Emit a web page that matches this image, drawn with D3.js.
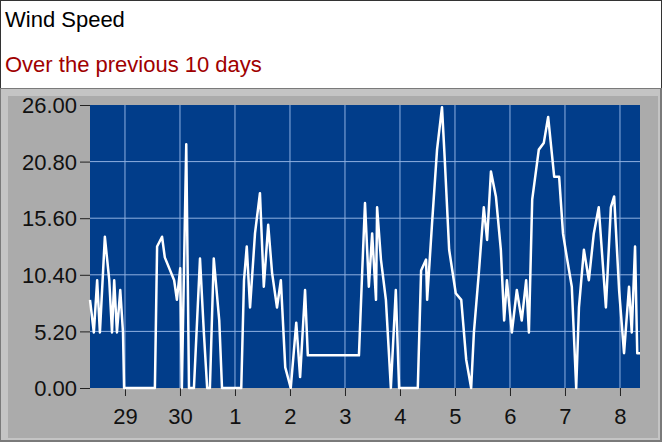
<!DOCTYPE html>
<html>
<head>
<meta charset="utf-8">
<script src="https://cdn.jsdelivr.net/npm/d3@7"></script>
<style>
  body { margin: 0; background: #fff; }
  svg { display: block; font-family: Arial, "Liberation Sans", sans-serif; }
</style>
</head>
<body>
<div id="chart"></div>
<script>
// Time in days since the left edge of the plot, wind speed in the chart's units
var times = [0.00,0.07,0.13,0.18,0.27,0.35,0.40,0.44,0.49,0.55,0.60,0.62,1.18,1.22,1.31,1.36,1.53,1.58,1.64,1.67,
  1.75,1.80,1.89,2.00,2.07,2.13,2.18,2.25,2.35,2.40,2.75,2.80,2.85,2.91,3.00,3.09,3.16,3.24,3.31,3.40,
  3.47,3.55,3.65,3.75,3.82,3.91,3.96,4.89,4.95,5.00,5.07,5.13,5.20,5.22,5.29,5.38,5.47,5.56,5.62,5.96,
  6.02,6.11,6.13,6.22,6.31,6.40,6.45,6.53,6.65,6.75,6.84,6.93,6.98,7.07,7.16,7.22,7.29,7.38,7.47,7.53,
  7.58,7.67,7.76,7.85,7.93,7.98,8.04,8.16,8.25,8.33,8.44,8.53,8.60,8.67,8.76,8.84,8.89,8.98,9.07,9.16,
  9.25,9.38,9.47,9.53,9.62,9.71,9.80,9.85,9.91,9.95,10.0];
var speeds = [8.1,5.1,9.9,5.1,13.9,9.9,5.1,9.9,5.1,9.0,5.1,0,0,13.0,13.9,12.0,9.9,8.1,11.0,0,
  22.4,0,0,11.9,5.1,0,0,11.9,6.2,0,0,9.9,13.0,7.4,14.2,17.9,9.3,15.0,10.6,7.4,
  9.9,1.9,0,6.0,1.0,9.0,3.0,3.0,10.8,17.0,9.3,14.2,8.1,16.6,11.8,8.1,0,9.0,0,0,
  10.8,11.8,8.1,15.2,21.9,25.8,21.0,12.7,8.7,8.1,2.6,0,5.1,10.6,16.6,13.6,19.9,17.6,12.7,6.2,
  9.9,5.1,9.0,6.2,9.9,5.1,17.3,21.9,22.5,24.9,19.4,19.4,14.2,12.0,9.3,0,7.4,12.7,9.9,14.2,
  16.6,7.4,16.6,17.6,9.0,3.2,9.3,5.1,13.0,3.2,3.2];
var dayLabels = ["29","30","1","2","3","4","5","6","7","8"];
var dayOffsets = [0.636,1.636,2.636,3.636,4.636,5.636,6.636,7.636,8.636,9.636];
var yTicks = [0, 5.2, 10.4, 15.6, 20.8, 26];

var W = 662, H = 442;
var plot = {left: 90, top: 105, right: 640, bottom: 388};

var svg = d3.select("#chart").append("svg").attr("width", W).attr("height", H);

// header
svg.append("rect").attr("x", 0.5).attr("y", 0.5).attr("width", W - 1).attr("height", 88)
  .attr("fill", "#fff").attr("stroke", "#333");
svg.append("text").attr("x", 5).attr("y", 27).attr("font-size", 22).attr("fill", "#000").text("Wind Speed");
svg.append("text").attr("x", 5).attr("y", 72).attr("font-size", 22).attr("fill", "#a00000").text("Over the previous 10 days");

// grey panel
svg.append("rect").attr("x", 0).attr("y", 88).attr("width", W).attr("height", H - 88).attr("fill", "#7a7a7a");
svg.append("rect").attr("x", 1).attr("y", 89).attr("width", W - 3).attr("height", H - 91).attr("fill", "#c4c4c4");
svg.append("rect").attr("x", 8).attr("y", 96).attr("width", W - 12).attr("height", H - 100).attr("fill", "#ababab");

var x = d3.scaleLinear().domain([0, 10]).range([plot.left, plot.right]);
var y = d3.scaleLinear().domain([0, 26]).range([plot.bottom, plot.top]);

svg.append("rect").attr("x", plot.left).attr("y", plot.top)
  .attr("width", plot.right - plot.left).attr("height", plot.bottom - plot.top).attr("fill", "#013d8a");

// grid
svg.append("g").selectAll("line").data(dayOffsets).enter().append("line")
  .attr("x1", d => x(d)).attr("x2", d => x(d)).attr("y1", plot.top).attr("y2", plot.bottom)
  .attr("stroke", "#8fb0e0").attr("stroke-width", 1);
svg.append("g").selectAll("line").data(yTicks.slice(1, -1)).enter().append("line")
  .attr("x1", plot.left).attr("x2", plot.right).attr("y1", d => y(d)).attr("y2", d => y(d))
  .attr("stroke", "#8fb0e0").attr("stroke-width", 1);

// axes
var yAxis = svg.append("g").attr("transform", "translate(" + plot.left + ",0)")
  .call(d3.axisLeft(y).tickValues(yTicks).tickFormat(d3.format(".2f")).tickSize(10).tickPadding(3));
var xAxis = svg.append("g").attr("transform", "translate(0," + plot.bottom + ")")
  .call(d3.axisBottom(x).tickValues(dayOffsets).tickFormat((d, i) => dayLabels[i]).tickSize(8).tickPadding(12));
[yAxis, xAxis].forEach(function (a) {
  a.select(".domain").remove();
  a.selectAll("line").attr("stroke", "#222");
  a.selectAll("text").attr("font-size", 22).attr("fill", "#111").attr("font-family", "Arial, 'Liberation Sans', sans-serif");
});
yAxis.selectAll("text").attr("dy", "0.35em");

// wind speed line
var data = times.map((t, i) => ({t: t, v: speeds[i]}));
svg.append("path").datum(data)
  .attr("d", d3.line().x(d => x(d.t)).y(d => y(d.v)))
  .attr("fill", "none").attr("stroke", "#fff").attr("stroke-width", 2.5).attr("stroke-linejoin", "round");
</script>
</body>
</html>
